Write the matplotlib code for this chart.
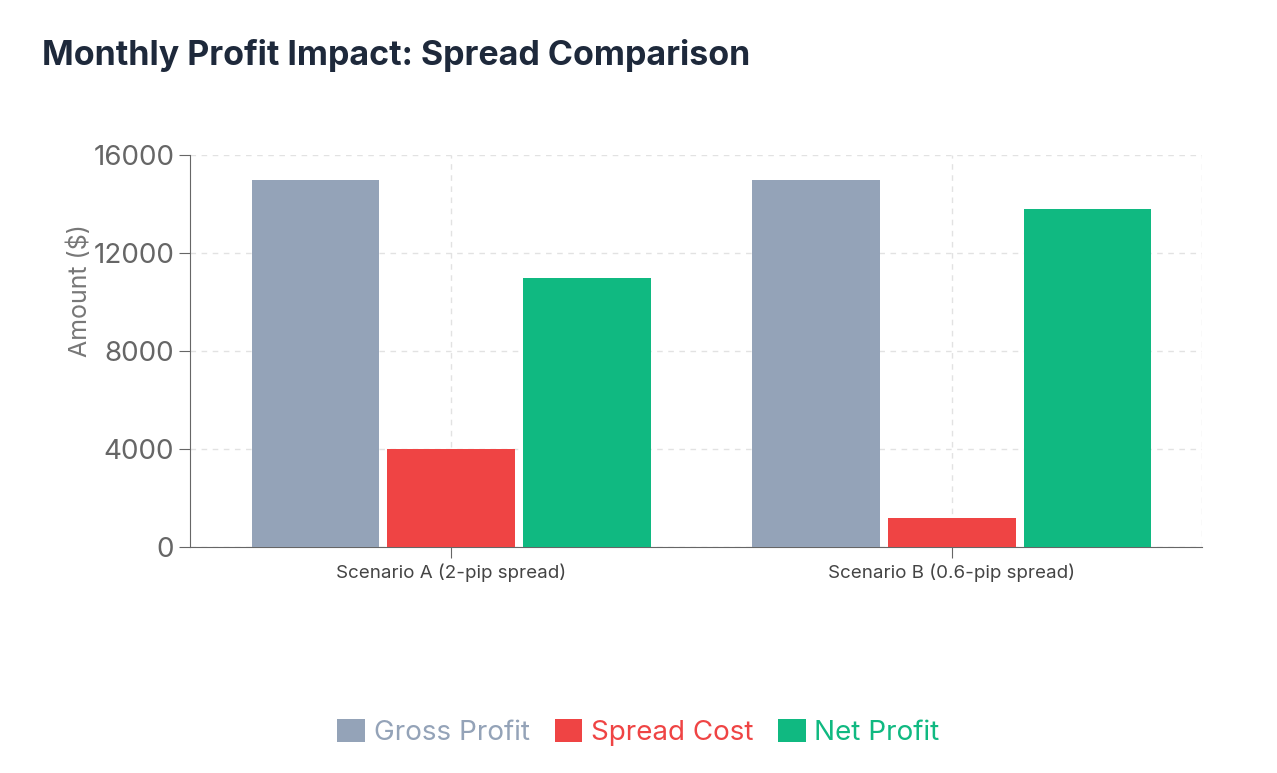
import numpy as np
import matplotlib.pyplot as plt

categories = ["Scenario A (2-pip spread)", "Scenario B (0.6-pip spread)"]
series = ["Gross Profit", "Spread Cost", "Net Profit"]
gross = [15000, 15000]
spread = [4000, 1200]
net = [11000, 13800]
colors = ["#94A3B8", "#EF4444", "#10B981"]

plt.rcParams['font.family'] = ['Inter', 'DejaVu Sans']
fig = plt.figure(figsize=(12.77, 7.73), dpi=100)
ax = fig.add_axes([0.149, 0.292, 0.792, 0.507])

x = np.arange(len(categories))
w = 0.255
off = 0.271
handles = []
for i, (vals, name, c) in enumerate(zip([gross, spread, net], series, colors)):
    h = ax.bar(x + (i - 1) * off, vals, w, color=c, label=name, zorder=3)
    handles.append(h)

ax.set_xlim(-0.521, 1.499)
ax.set_ylim(0, 16000)
ax.set_yticks([0, 4000, 8000, 12000, 16000])
ax.set_xticks(x)
ax.set_xticklabels(categories, fontsize=13.5, color="#444444")
ax.tick_params(axis='y', labelsize=20, labelcolor="#666666", length=8, color="#666666")
ax.tick_params(axis='x', length=8, color="#666666")
ax.grid(True, linestyle=(0, (4, 4)), color="#e2e2e2", linewidth=1, zorder=0)
ax.axvline(1.499, linestyle=(0, (4, 4)), color="#e2e2e2", linewidth=1, zorder=0)
for s in ["top", "right"]:
    ax.spines[s].set_visible(False)
ax.spines["left"].set_color("#666666")
ax.spines["bottom"].set_color("#666666")
ax.set_ylabel("Amount ($)", fontsize=18, color="#777777")
ax.yaxis.set_label_coords(-0.097, 0.656)

fig.text(0.033, 0.928, "Monthly Profit Impact: Spread Comparison", fontsize=24.5,
         fontweight="bold", color="#1e293b", va="center")

leg = fig.legend(handles=handles, loc="center", bbox_to_anchor=(0.5, 0.052), ncol=3,
                 frameon=False, fontsize=20, handlelength=1.0, handleheight=0.9,
                 handletextpad=0.3, columnspacing=0.9)
for t, c in zip(leg.get_texts(), colors):
    t.set_color(c)

fig.savefig("out.png", dpi=100)
